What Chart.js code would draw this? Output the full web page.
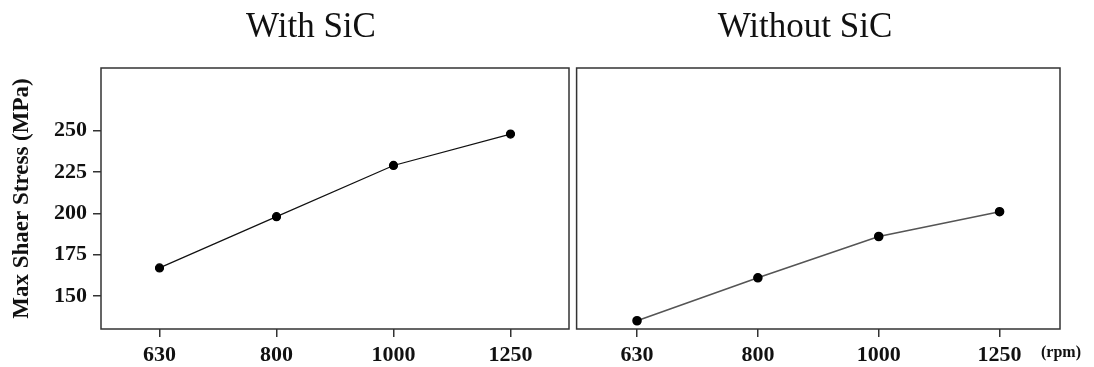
<!DOCTYPE html>
<html>
<head>
<meta charset="utf-8">
<script src="https://cdn.jsdelivr.net/npm/chart.js@4/dist/chart.umd.min.js"></script>
<style>
  html, body { margin: 0; padding: 0; background: #fff; }
  #wrap { position: relative; width: 1094px; height: 367px; }
  #leftBox { position: absolute; left: 0; top: 0; width: 575px; height: 367px; }
  #rightBox { position: absolute; left: 571px; top: 0; width: 523px; height: 367px; }
</style>
</head>
<body>
<div id="wrap">
  <div id="leftBox"><canvas id="withChart"></canvas></div>
  <div id="rightBox"><canvas id="withoutChart"></canvas></div>
</div>
<script>
const speeds = ['630', '800', '1000', '1250'];
const withSiC = [167, 198, 229, 248];
const withoutSiC = [135, 161, 186, 201];
const yTicks = [150, 175, 200, 225, 250];

const serif = "'Liberation Serif', 'Times New Roman', serif";

// frame around plot area + panel heading
const boxPlugin = {
  id: 'box',
  afterDraw(chart, args, opts) {
    const a = chart.chartArea, c = chart.ctx;
    c.save();
    c.strokeStyle = '#333';
    c.lineWidth = 1.5;
    c.strokeRect(a.left, a.top, a.right - a.left, a.bottom - a.top);
    if (opts.heading) {
      c.font = '35px ' + serif;
      c.fillStyle = '#111';
      c.textAlign = 'center';
      c.textBaseline = 'alphabetic';
      c.fillText(opts.heading, opts.headX, 37);
    }
    if (opts.unit) {
      c.font = 'bold 16px ' + serif;
      c.textAlign = 'left';
      c.textBaseline = 'middle';
      c.fillText(opts.unit, opts.unitX, 353);
    }
    c.restore();
  }
};

function xAxis() {
  return {
    type: 'category',
    offset: true,
    grid: { display: true, drawOnChartArea: false, tickLength: 8, color: '#333', lineWidth: 1.5 },
    border: { display: false },
    ticks: { color: '#111', font: { family: serif, size: 22, weight: 'bold' }, padding: 5 },
    afterFit(s) { s.height = 38; }
  };
}

new Chart(document.getElementById('withChart'), {
  type: 'line',
  data: {
    labels: speeds,
    datasets: [{
      data: withSiC,
      borderColor: '#111',
      borderWidth: 1.2,
      pointBackgroundColor: '#000',
      pointBorderColor: '#000',
      pointRadius: 4,
      tension: 0
    }]
  },
  options: {
    responsive: true,
    maintainAspectRatio: false,
    animation: false,
    layout: { padding: { left: 0, right: 6, top: 68, bottom: 0 } },
    plugins: {
      legend: { display: false },
      tooltip: { enabled: false },
      box: { heading: 'With SiC', headX: 311 }
    },
    scales: {
      x: xAxis(),
      y: {
        min: 130, max: 288,
        afterBuildTicks(s) { s.ticks = yTicks.map(v => ({ value: v })); },
        grid: { display: true, drawOnChartArea: false, tickLength: 8, color: '#333', lineWidth: 1.5 },
        border: { display: false },
        ticks: { color: '#111', font: { family: serif, size: 22, weight: 'bold' }, padding: 6 },
        title: {
          display: true,
          text: 'Max Shaer Stress (MPa)',
          color: '#111',
          font: { family: serif, size: 23, weight: 'bold' },
          padding: { top: 8, bottom: 0 }
        },
        afterFit(s) { s.width = 101; }
      }
    }
  },
  plugins: [boxPlugin]
});

new Chart(document.getElementById('withoutChart'), {
  type: 'line',
  data: {
    labels: speeds,
    datasets: [{
      data: withoutSiC,
      borderColor: '#555',
      borderWidth: 1.6,
      pointBackgroundColor: '#000',
      pointBorderColor: '#000',
      pointRadius: 4,
      tension: 0
    }]
  },
  options: {
    responsive: true,
    maintainAspectRatio: false,
    animation: false,
    layout: { padding: { left: 0, right: 34, top: 68, bottom: 0 } },
    plugins: {
      legend: { display: false },
      tooltip: { enabled: false },
      box: { heading: 'Without SiC', headX: 805 - 571, unit: '(rpm)', unitX: 1041 - 571 }
    },
    scales: {
      x: xAxis(),
      y: { display: false, min: 130, max: 288 }
    }
  },
  plugins: [boxPlugin]
});
</script>
</body>
</html>
